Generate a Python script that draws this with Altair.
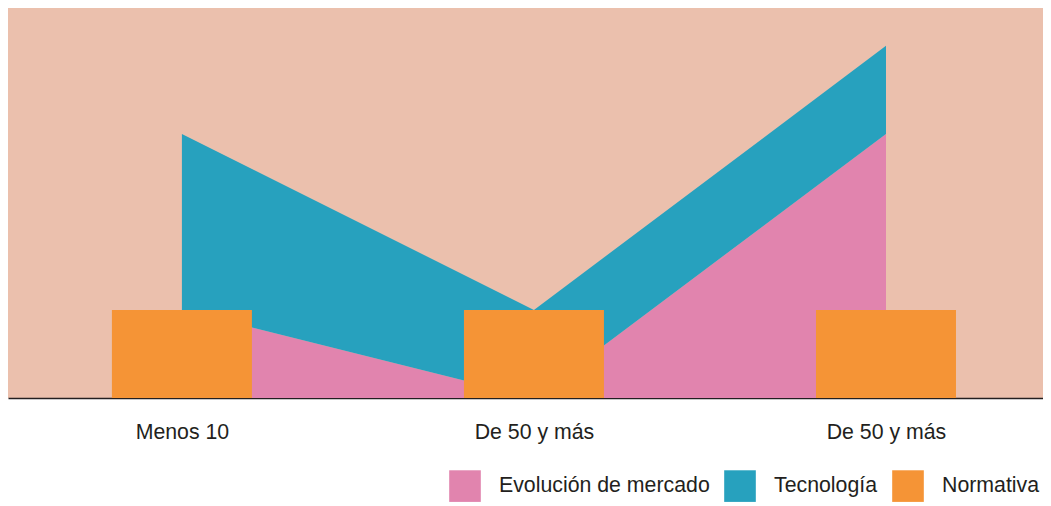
import json
import altair as alt
import pandas as pd

categories = ["Menos 10", "De 50 y más", "De 50 y más"]
positions = [0, 1, 2]
evolucion = [1, 0, 3]
tecnologia = [2, 1, 1]
normativa = [1, 1, 1]
series_names = ["Evolución de mercado", "Tecnología", "Normativa"]
series_colors = ["#E184AE", "#27A1BE", "#F59436"]

rows = []
for p, c, e, t in zip(positions, categories, evolucion, tecnologia):
    rows.append({"pos": p, "cat": c, "serie": series_names[0], "val": e, "ord": 0})
    rows.append({"pos": p, "cat": c, "serie": series_names[1], "val": t, "ord": 1})
area_df = pd.DataFrame(rows)
bar_df = pd.DataFrame({"pos": positions, "cat": categories, "serie": series_names[2], "val": normativa})

label_expr = json.dumps(categories, ensure_ascii=False) + "[datum.value]"

xscale = alt.Scale(domain=[-0.494, 2.446], nice=False, zero=False, padding=0)
yscale = alt.Scale(domain=[0, 4.43], nice=False)
color = alt.Color(
    "serie:N",
    scale=alt.Scale(domain=series_names, range=series_colors),
    legend=alt.Legend(
        title=None,
        orient="none",
        direction="horizontal",
        legendX=441,
        legendY=462,
        symbolType="square",
        symbolSize=1000,
        symbolStrokeWidth=0,
        symbolOpacity=1,
        labelFont="Liberation Sans",
        labelFontSize=21.3,
        labelColor="#231F20",
        labelOffset=18,
        labelLimit=400,
        columnPadding=14,
    ),
)

xaxis = alt.Axis(
    values=positions,
    labelExpr=label_expr,
    title=None,
    ticks=False,
    grid=False,
    domainColor="#231F20",
    domainWidth=1.5,
    labelFont="Liberation Sans",
    labelFontSize=21.3,
    labelColor="#231F20",
    labelPadding=23,
)

area = alt.Chart(area_df).mark_area(opacity=1).encode(
    x=alt.X("pos:Q", scale=xscale, axis=xaxis),
    y=alt.Y("val:Q", stack="zero", scale=yscale, axis=None),
    color=color,
    order=alt.Order("ord:Q"),
)

bars = alt.Chart(bar_df).mark_bar(size=140, opacity=1).encode(
    x=alt.X("pos:Q", scale=xscale, axis=xaxis),
    y=alt.Y("val:Q", scale=yscale, axis=None),
    color=color,
)

chart = alt.layer(area, bars).properties(
    width=1035, height=390, padding=0, background="white"
).configure_view(
    stroke=None, fill="#EBC0AD"
)

chart.save("out.html", embed_options={"renderer": "svg", "actions": False})
